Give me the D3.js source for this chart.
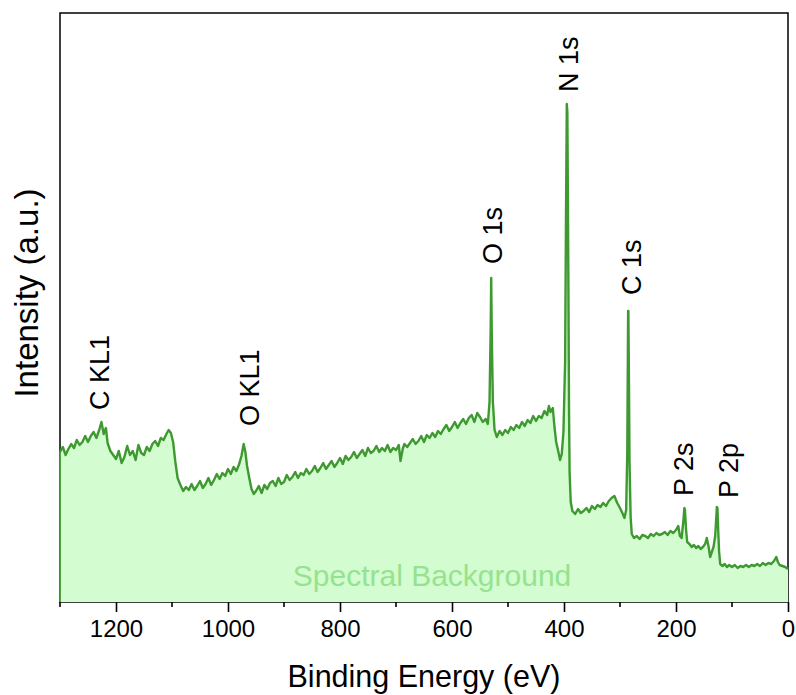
<!DOCTYPE html>
<html>
<head>
<meta charset="utf-8">
<script src="https://cdnjs.cloudflare.com/ajax/libs/d3/7.8.5/d3.min.js"></script>
<style>
    body { margin: 0; background: #fff; }
    text { font-family: "Liberation Sans", Arial, sans-serif; }
</style>
</head>
<body>
<div id="chart"></div>
<script>
// XPS survey (intensity in a.u.)
var bindingEnergy = [
    1300, 1295, 1290, 1285, 1280, 1275, 1270, 1265, 1260, 1255,
    1250, 1245, 1240, 1235, 1230, 1226, 1222, 1218, 1215, 1210,
    1205, 1200, 1195, 1190, 1185, 1180, 1175, 1170, 1165, 1160,
    1155, 1150, 1145, 1140, 1135, 1130, 1125, 1120, 1115, 1110,
    1106, 1102, 1098, 1094, 1090, 1085, 1080, 1075, 1070, 1065,
    1060, 1055, 1050, 1045, 1040, 1035, 1030, 1025, 1020, 1015,
    1010, 1005, 1000, 995, 990, 985, 980, 976, 972, 969,
    966, 962, 958, 954, 950, 945, 940, 935, 930, 925,
    920, 915, 910, 905, 900, 895, 890, 885, 880, 875,
    870, 865, 860, 855, 850, 845, 840, 835, 830, 825,
    820, 815, 810, 805, 800, 795, 790, 785, 780, 775,
    770, 765, 760, 755, 750, 745, 740, 735, 730, 725,
    720, 715, 710, 705, 700, 695, 692, 688, 685, 680,
    675, 670, 665, 660, 655, 650, 645, 640, 635, 630,
    625, 620, 615, 610, 605, 600, 595, 590, 585, 580,
    575, 570, 565, 560, 555, 550, 545, 540, 536, 533,
    531, 530, 529, 527, 524, 520, 515, 510, 505, 500,
    495, 490, 485, 480, 475, 470, 465, 460, 455, 450,
    445, 440, 435, 430, 427, 424, 420, 417, 414, 410,
    407, 404, 401, 398, 396.5, 395, 394, 393, 392, 391,
    390, 388, 385, 380, 375, 370, 365, 360, 355, 350,
    345, 340, 335, 330, 325, 320, 315, 310, 305, 300,
    295, 292, 289, 287, 285.5, 285, 284, 283, 281, 279,
    275, 270, 265, 260, 255, 250, 245, 240, 235, 230,
    225, 220, 215, 210, 205, 200, 196, 193, 190, 187,
    185, 184, 182, 180, 176, 172, 168, 164, 160, 156,
    152, 148, 145, 142, 139, 136, 133, 130, 127, 126,
    124.5, 123, 121, 117, 113, 109, 105, 100, 95, 90,
    85, 80, 75, 70, 65, 60, 55, 50, 45, 40,
    35, 30, 25, 21, 18, 15, 10, 5, 0
];
var intensity = [
    150, 155, 147, 153, 158, 154, 162, 157, 160, 166,
    160, 166, 170, 164, 172, 180, 168, 174, 159, 151,
    147, 143, 151, 139, 145, 156, 147, 151, 142, 157,
    149, 147, 155, 151, 158, 161, 156, 164, 162, 168,
    172, 169, 160, 140, 124, 117, 111, 115, 112, 118,
    112, 116, 121, 114, 118, 124, 117, 122, 128, 123,
    129, 126, 133, 128, 135, 131, 138, 146, 158, 150,
    136, 124, 113, 108, 111, 116, 109, 117, 113, 119,
    121, 116, 124, 118, 120, 127, 122, 125, 130, 124,
    129, 127, 133, 128, 131, 136, 130, 134, 139, 133,
    137, 141, 135, 139, 144, 138, 146, 142, 145, 150,
    144, 148, 152, 146, 154, 149, 151, 156, 150, 154,
    151, 157, 150, 154, 152, 157, 141, 153, 158, 155,
    159, 163, 158, 161, 166, 160, 167, 164, 169, 165,
    171, 168, 173, 177, 171, 175, 180, 174, 179, 183,
    178, 184, 187, 180, 189, 185, 180, 183, 178, 200,
    270, 324, 270, 200, 172, 165, 171, 167, 172, 169,
    175, 172, 177, 174, 180, 176, 182, 179, 186, 181,
    186, 184, 191, 187, 196, 190, 194, 175, 160, 150,
    142, 148, 170, 240, 380, 498, 490, 400, 300, 190,
    130, 100, 91, 88, 93, 89, 91, 94, 90, 96,
    93, 97, 95, 99, 96, 101, 104, 106, 99, 94,
    88, 84, 92, 150, 291, 291, 220, 140, 85, 68,
    64, 66, 63, 67, 66, 64, 68, 66, 69, 67,
    68, 70, 67, 71, 69, 72, 76, 66, 64, 80,
    94, 92, 72, 60, 58, 55, 57, 54, 56, 53,
    55, 58, 64, 56, 45, 50, 55, 66, 95, 94,
    70, 50, 38, 36, 38, 35, 37, 35, 37, 34,
    36, 35, 37, 35, 37, 36, 38, 36, 39, 37,
    39, 38, 41, 45, 40, 37, 36, 35, 33
];

var peakLabels = ["C KL1", "O KL1", "O 1s", "N 1s", "C 1s", "P 2s", "P 2p"];
var labelEnergy = [1230, 962, 528, 392, 280, 187, 107];
var labelLevel = [192, 176, 338, 510, 307, 106, 104];

var majorTicks = [1200, 1000, 800, 600, 400, 200, 0];
var minorTicks = [1300, 1100, 900, 700, 500, 300, 100];

window.onload = function() {
    drawChart();
}

function drawChart() {
    var width = 796, height = 695;
    var plotLeft = 60, plotRight = 788, plotTop = 13, plotBottom = 602;
    var lineColor = "#3e9a30";

    var svg = d3.select("#chart").append("svg")
        .attr("width", width)
        .attr("height", height);

    var x = d3.scaleLinear().domain([1300, 0]).range([plotLeft, plotRight]);
    var y = d3.scaleLinear().domain([0, 589]).range([plotBottom, plotTop]);

    var data = bindingEnergy.map(function(e, i) {
        return { e: e, v: intensity[i] };
    });

    var area = d3.area()
        .x(function(d) { return x(d.e); })
        .y0(y(0))
        .y1(function(d) { return y(d.v); });

    var line = d3.line()
        .x(function(d) { return x(d.e); })
        .y(function(d) { return y(d.v); });

    // frame
    svg.append("rect")
        .attr("x", plotLeft).attr("y", plotTop)
        .attr("width", plotRight - plotLeft).attr("height", plotBottom - plotTop)
        .attr("fill", "none")
        .attr("stroke", "#000")
        .attr("stroke-width", 1.5);

    svg.append("path")
        .datum(data)
        .attr("d", area)
        .attr("fill", "#d3fcd1");

    svg.append("text")
        .attr("x", 432)
        .attr("y", 586)
        .attr("text-anchor", "middle")
        .attr("font-size", 30)
        .attr("fill", "#96e38e")
        .text("Spectral Background");

    svg.append("path")
        .datum(data)
        .attr("d", line)
        .attr("fill", "none")
        .attr("stroke", lineColor)
        .attr("stroke-width", 2.4)
        .attr("stroke-linejoin", "round");

    // left edge of the filled trace
    svg.append("line")
        .attr("x1", x(bindingEnergy[0])).attr("x2", x(bindingEnergy[0]))
        .attr("y1", y(intensity[0])).attr("y2", y(0))
        .attr("stroke", lineColor)
        .attr("stroke-width", 1.8);

    // x axis
    var axis = svg.append("g")
        .attr("transform", "translate(0," + plotBottom + ")")
        .call(d3.axisBottom(x).tickValues(majorTicks).tickSize(10).tickPadding(8).tickFormat(d3.format("d")));
    axis.select(".domain").remove();
    axis.selectAll(".tick line").attr("stroke", "#000").attr("stroke-width", 1.6);
    axis.selectAll(".tick text")
        .attr("font-size", 24)
        .attr("font-family", "'Liberation Sans', Arial, sans-serif")
        .attr("fill", "#000");

    svg.append("g")
        .selectAll("line")
        .data(minorTicks)
        .enter()
        .append("line")
        .attr("x1", function(d) { return x(d); })
        .attr("x2", function(d) { return x(d); })
        .attr("y1", plotBottom)
        .attr("y2", plotBottom + 5)
        .attr("stroke", "#000")
        .attr("stroke-width", 1.6);

    svg.append("text")
        .attr("x", 424)
        .attr("y", 687)
        .attr("text-anchor", "middle")
        .attr("font-size", 30.5)
        .text("Binding Energy (eV)");

    svg.append("text")
        .attr("transform", "translate(38,293) rotate(-90)")
        .attr("text-anchor", "middle")
        .attr("font-size", 33)
        .text("Intensity (a.u.)");

    // peak labels
    svg.append("g")
        .selectAll("text")
        .data(peakLabels)
        .enter()
        .append("text")
        .attr("transform", function(d, i) {
            return "translate(" + x(labelEnergy[i]) + "," + y(labelLevel[i]) + ") rotate(-90)";
        })
        .attr("dy", "0.36em")
        .attr("font-size", 27)
        .text(function(d) { return d; });
}
</script>
</body>
</html>
